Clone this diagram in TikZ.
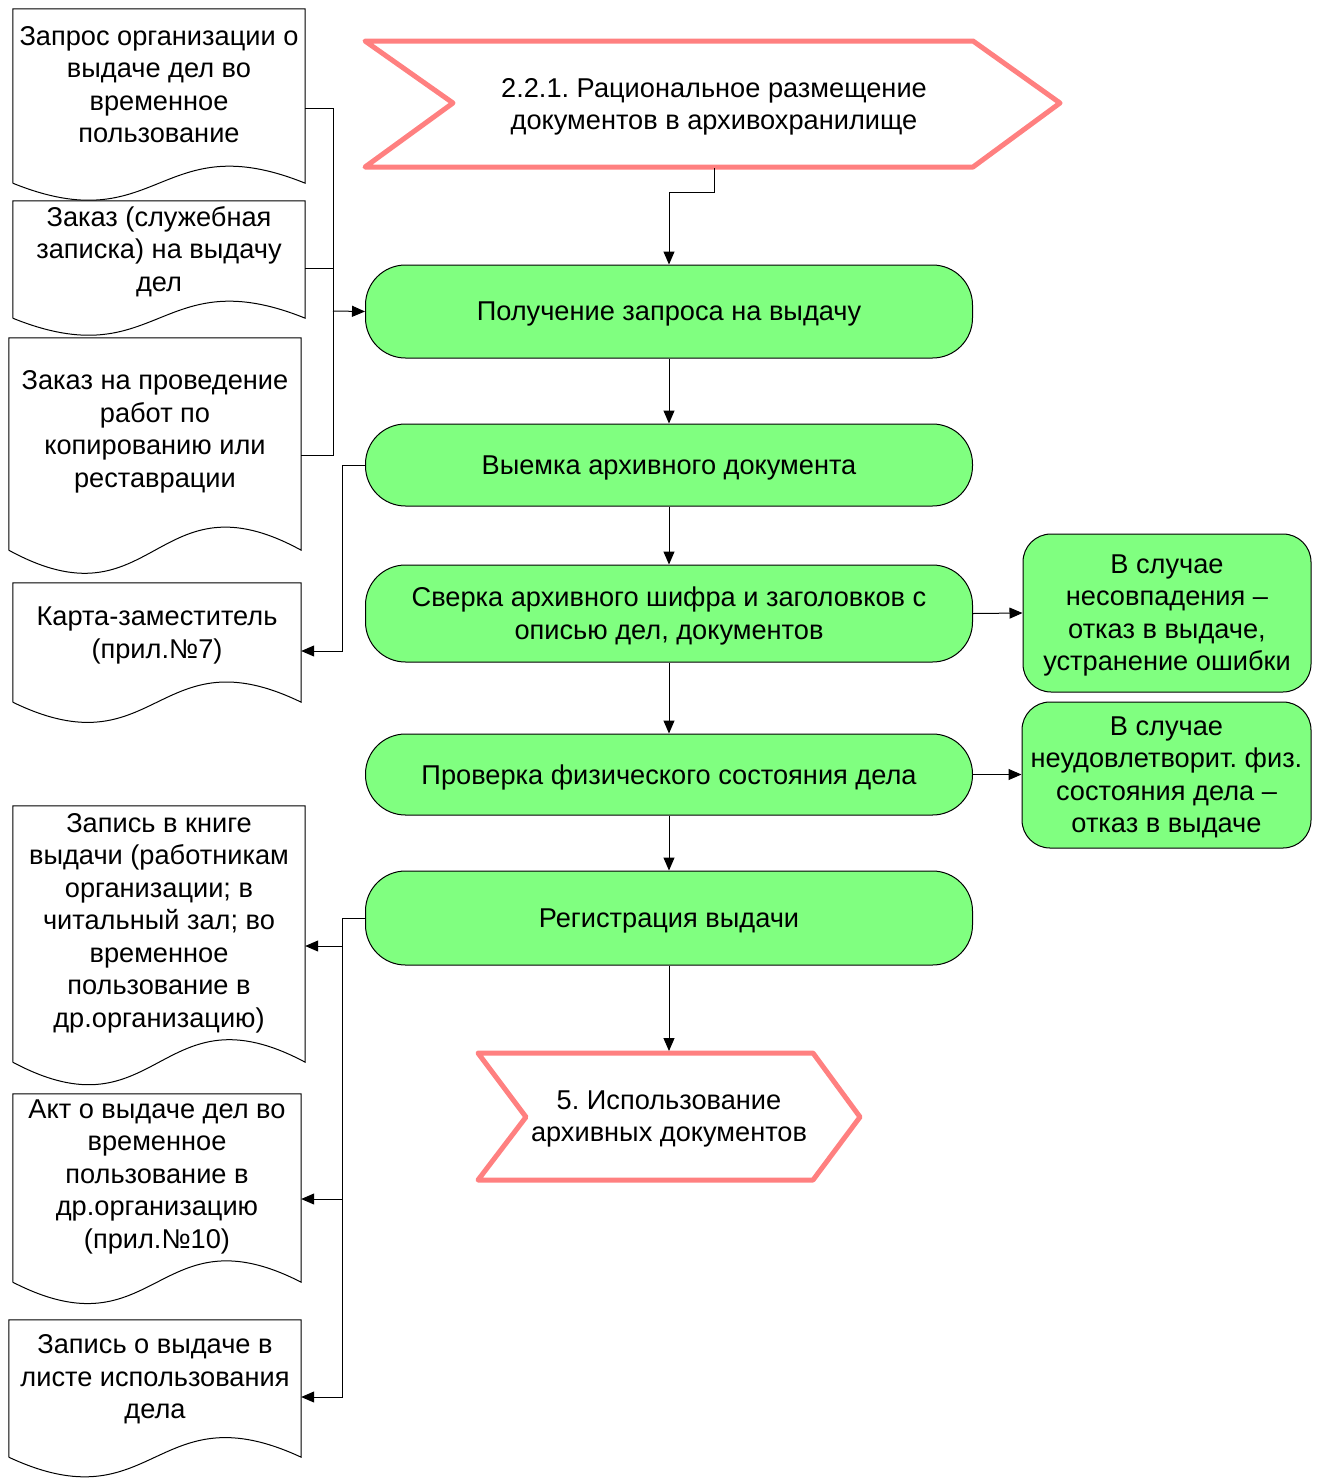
\documentclass[tikz,border=0pt]{standalone}
\usepackage{fontspec}
\setmainfont{Liberation Sans}
\usetikzlibrary{arrows.meta,calc}
\definecolor{procgreen}{HTML}{80FF80}
\definecolor{chevpink}{HTML}{FF8080}
\newcommand{\docoutline}[2]{%
  \draw[docline] (#1.south west) -- (#1.north west) -- (#1.north east) -- (#1.south east)
    .. controls ($(#1.south)+(0,-#2)$) and ($(#1.south)+(0,#2)$) .. (#1.south west);}
\begin{document}
\frenchspacing
\begin{tikzpicture}[x=1pt,y=-1pt,
  every node/.style={font=\fontsize{27.2}{32.5}\selectfont, align=center, inner sep=0pt},
  proc/.style={draw=black, line width=1pt, fill=procgreen, rounded corners=40pt, minimum width=607pt},
  side/.style={draw=black, line width=1pt, fill=procgreen, rounded corners=28pt},
  boxtext/.style={label={[yshift=-2.5pt]center:{#1}}},
  docbox/.style={draw=none, rectangle},
  docline/.style={draw=black, line width=1pt, fill=white},
  chev/.style={draw=chevpink, line width=5pt, line join=round, fill=white},
  conn/.style={draw=black, line width=1pt},
  arr/.style={conn, -{Triangle[length=13pt,width=11pt]}}
]
\useasboundingbox (0,0) rectangle (1320,1484);

% top chevron
\draw[chev] (365,41) -- (973,41) -- (1060,103) -- (973,167) -- (365,167) -- (453,103) -- cycle;
\node (c1) at (714,107) {2.2.1. Рациональное размещение\\документов в архивохранилище};
\coordinate (c1b) at (714,168);

% bottom chevron
\draw[chev] (478,1053) -- (813,1053) -- (860,1117) -- (813,1180) -- (478,1180) -- (526,1117) -- cycle;
\node (c2) at (669,1119) {5. Использование\\архивных документов};
\coordinate (c2t) at (669,1051);

% process boxes
\node[proc, minimum height=93pt, boxtext={Получение запроса на выдачу}] (p1) at (669,311.5) {};
\node[proc, minimum height=82pt, boxtext={Выемка архивного документа}] (p2) at (669,465) {};
\node[proc, minimum height=97pt, boxtext={Сверка архивного шифра и заголовков с\\описью дел, документов}] (p3) at (669,613.5) {};
\node[proc, minimum height=81pt, boxtext={Проверка физического состояния дела}] (p4) at (669,774.5) {};
\node[proc, minimum height=94pt, boxtext={Регистрация выдачи}] (p5) at (669,918) {};

\node[side, minimum width=288pt, minimum height=158pt, boxtext={В случае\\несовпадения –\\отказ в выдаче,\\устранение ошибки}] (s1) at (1167,613) {};
\node[side, minimum width=289pt, minimum height=146pt, boxtext={В случае\\неудовлетворит. физ.\\состояния дела –\\отказ в выдаче}] (s2) at (1166.5,775) {};

% documents
\node[docbox, minimum width=292pt, minimum height=174pt] (d1) at (159,96) {};
\docoutline{d1}{59}
\node (t1) at (159,84.5) {Запрос организации о\\выдаче дел во\\временное\\пользование};

\node[docbox, minimum width=292pt, minimum height=117pt] (d2) at (159,259.5) {};
\docoutline{d2}{59}
\node (t2) at (159,251.5) {Заказ (служебная\\записка) на выдачу\\дел};

\node[docbox, minimum width=292pt, minimum height=212pt] (d3) at (155,444) {};
\docoutline{d3}{80}
\node (t3) at (155,432) {Заказ на проведение\\работ по\\копированию или\\реставрации};

\node[docbox, minimum width=288pt, minimum height=119pt] (d4) at (157,642.5) {};
\docoutline{d4}{70}
\node (t4) at (157,635.5) {Карта-заместитель\\(прил.№7)};

\node[docbox, minimum width=292pt, minimum height=256pt] (d5) at (159,934) {};
\docoutline{d5}{78}
\node (t5) at (159,923) {Запись в книге\\выдачи (работникам\\организации; в\\читальный зал; во\\временное\\пользование в\\др.организацию)};

\node[docbox, minimum width=288pt, minimum height=188pt] (d6) at (157,1188) {};
\docoutline{d6}{74}
\node (t6) at (157,1176.5) {Акт о выдаче дел во\\временное\\пользование в\\др.организацию\\(прил.№10)};

\node[docbox, minimum width=292pt, minimum height=137pt] (d7) at (155,1388.5) {};
\docoutline{d7}{68}
\node (t7) at (155,1379.5) {Запись о выдаче в\\листе использования\\дела};

% connectors
\draw[arr] (c1b) -- (714,192) -- (669,192) -- (p1.north);
\draw[conn] (d1.east |- 0,108) -- (333,108) -- (333,455) -- (d3.east |- 0,455);
\draw[conn] (d2.east |- 0,268) -- (333,268);
\draw[arr] (333,311) -- (p1.west);

\draw[arr] (p1.south) -- (p2.north);
\draw[arr] (p2.south) -- (p3.north);
\draw[arr] (p3.south) -- (p4.north);
\draw[arr] (p4.south) -- (p5.north);
\draw[arr] (p5.south) -- (c2t);

\draw[arr] (p3.east) -- (s1.west);
\draw[arr] (p4.east) -- (s2.west |- p4.east);

\draw[arr] (p2.west) -- (342,465) -- (342,651) -- (d4.east |- 0,651);

\draw[arr] (p5.west) -- (342,918) -- (342,1397) -- (d7.east |- 0,1397);
\draw[arr] (342,946) -- (d5.east |- 0,946);
\draw[arr] (342,1199) -- (d6.east |- 0,1199);
\end{tikzpicture}
\end{document}
